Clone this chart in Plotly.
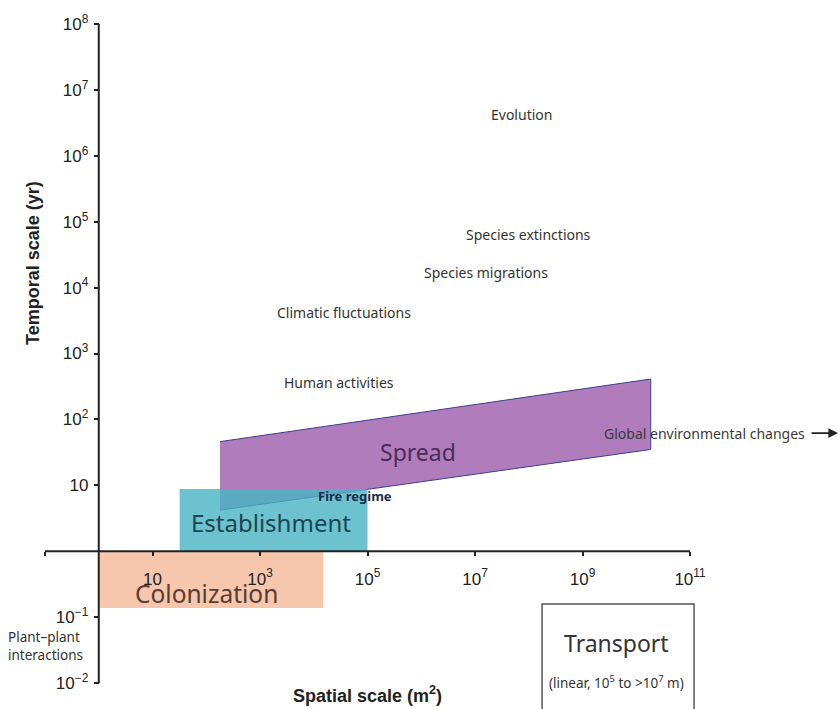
import numpy as np
import plotly.graph_objects as go

# ---------------- data ----------------
# axis ticks (spatial scale m^2, temporal scale yr)
x_tick_vals = [1e-1, 1e1, 1e3, 1e5, 1e7, 1e9, 1e11]
x_tick_text = ["", "10", "10<sup>3</sup>", "10<sup>5</sup>", "10<sup>7</sup>",
               "10<sup>9</sup>", "10<sup>11</sup>"]
y_tick_vals = [1e-2, 1e-1, 1e1, 1e2, 1e3, 1e4, 1e5, 1e6, 1e7, 1e8]
y_tick_text = ["10<sup>−2</sup>", "10<sup>−1</sup>", "10", "10<sup>2</sup>",
               "10<sup>3</sup>", "10<sup>4</sup>", "10<sup>5</sup>",
               "10<sup>6</sup>", "10<sup>7</sup>", "10<sup>8</sup>"]

# invasion stages (polygons in spatial / temporal space)
colonization_x = [1, 1.5e4, 1.5e4, 1]
colonization_y = [1, 1, 0.137, 0.137]
establishment_x = [32, 1e5, 1e5, 32]
establishment_y = [1, 1, 8.8, 8.8]
spread_x = [180, 1.86e10, 1.86e10, 180]
spread_y = [46, 410, 35, 4.2]

# drivers / processes (label positions)
driver_names = ["Evolution", "Species extinctions", "Species migrations",
                "Climatic fluctuations", "Human activities"]
driver_x = [7.2e7, 9.7e7, 1.6e7, 3.7e4, 3.0e4]
driver_y = [4.2e6, 6.3e4, 1.7e4, 4.2e3, 360]

stage_names = ["Spread", "Establishment", "Colonization"]
stage_x = [8.7e5, 1.6e3, 99]
stage_y = [32, 2.7, 0.23]

fire_x, fire_y = 5.8e4, 6.9
global_x, global_y = 1.9e11, 62
plant_x, plant_y = 0.019, 0.0364

transport_box_x = [1.77e8, 1.19e11]
transport_box_y = [0.158, 0.002]
transport_x, transport_y = 4.3e9, 0.041
transport_note_y = 0.0105

# ---------------- figure ----------------
W, H = 839, 709
x_range = [-1.8372, 13.7721]
y_range = [-2.3945, 8.3642]
yaxis_pos = (0 - x_range[0]) / (x_range[1] - x_range[0])
xaxis_pos = (0 - y_range[0]) / (y_range[1] - y_range[0])

fig = go.Figure()

fig.add_trace(go.Scatter(x=colonization_x, y=colonization_y, fill="toself",
                         fillcolor="#f6c6ad", line=dict(width=0), mode="lines",
                         hoverinfo="skip", showlegend=False))
fig.add_trace(go.Scatter(x=spread_x, y=spread_y, fill="toself",
                         fillcolor="#b07cbc", line=dict(width=1, color="#3b3d8c"),
                         mode="lines", hoverinfo="skip", showlegend=False))
fig.add_trace(go.Scatter(x=establishment_x, y=establishment_y, fill="toself",
                         fillcolor="rgba(71,180,195,0.8)", line=dict(width=0),
                         mode="lines", hoverinfo="skip", showlegend=False))

# axis lines crossing at (1, 1)
axis_x_line = [x_tick_vals[0], x_tick_vals[-1]]
axis_y_line = [y_tick_vals[0], y_tick_vals[-1]]
fig.add_trace(go.Scatter(x=axis_x_line, y=[1, 1], mode="lines",
                         line=dict(color="#222", width=2), hoverinfo="skip",
                         showlegend=False))
fig.add_trace(go.Scatter(x=[1, 1], y=axis_y_line, mode="lines",
                         line=dict(color="#222", width=2), hoverinfo="skip",
                         showlegend=False))

# transport box
fig.add_shape(type="rect", x0=transport_box_x[0], x1=transport_box_x[1],
              y0=transport_box_y[0], y1=transport_box_y[1],
              line=dict(color="#555", width=1.5), fillcolor="rgba(0,0,0,0)")

LABEL_FONT = "Noto Sans"
ann = []
for name, xv, yv in zip(driver_names, driver_x, driver_y):
    ann.append(dict(x=np.log10(xv), y=np.log10(yv), text=name, showarrow=False,
                    font=dict(family=LABEL_FONT, size=14, color="#333")))

stage_colors = ["#4a2d57", "#1d4550", "#5a3c33"]
stage_sizes = [23, 24, 24.5]
for name, xv, yv, c, s in zip(stage_names, stage_x, stage_y, stage_colors, stage_sizes):
    ann.append(dict(x=np.log10(xv), y=np.log10(yv), text=name, showarrow=False,
                    font=dict(family=LABEL_FONT, size=s, color=c)))

ann.append(dict(x=np.log10(fire_x), y=np.log10(fire_y), text="<b>Fire regime</b>",
                showarrow=False, font=dict(family=LABEL_FONT, size=13, color="#1e2a4a")))
ann.append(dict(x=np.log10(global_x), y=np.log10(global_y),
                text="Global environmental changes", showarrow=False,
                font=dict(family=LABEL_FONT, size=14, color="#3a3a3a")))
ann.append(dict(x=13.753, y=np.log10(global_y), ax=13.233, ay=np.log10(global_y),
                axref="x", ayref="y", text="", showarrow=True, arrowhead=2,
                arrowsize=1.2, arrowwidth=1.6, arrowcolor="#222", standoff=0))
ann.append(dict(x=np.log10(plant_x), y=np.log10(plant_y),
                text="Plant–plant<br>interactions", showarrow=False, align="left",
                xanchor="left", font=dict(family=LABEL_FONT, size=13.5, color="#333")))
ann.append(dict(x=np.log10(transport_x), y=np.log10(transport_y), text="Transport",
                showarrow=False, font=dict(family=LABEL_FONT, size=23, color="#333")))
ann.append(dict(x=np.log10(transport_x), y=np.log10(transport_note_y),
                text="(linear, 10<sup>5</sup> to >10<sup>7</sup> m)", showarrow=False,
                font=dict(family=LABEL_FONT, size=13.5, color="#333")))

# axis titles
ann.append(dict(xref="paper", yref="paper", x=33 / W, y=1 - 263 / H,
                xanchor="center", yanchor="middle",
                text="<b>Temporal scale (yr)</b>", textangle=-90, showarrow=False,
                font=dict(family="Liberation Sans", size=18, color="#222")))
ann.append(dict(xref="paper", yref="paper", x=367 / W, y=1 - 694 / H,
                xanchor="center", yanchor="middle",
                text="<b>Spatial scale (m<sup>2</sup>)</b>", showarrow=False,
                font=dict(family="Liberation Sans", size=18, color="#222")))

fig.update_layout(
    width=W, height=H, margin=dict(l=0, r=0, t=0, b=0, pad=0),
    plot_bgcolor="white", paper_bgcolor="white", showlegend=False,
    annotations=ann,
    xaxis=dict(type="log", range=x_range, domain=[0, 1], anchor="free",
               position=xaxis_pos, showline=False, showgrid=False, zeroline=False,
               ticks="outside", ticklen=4, tickwidth=1.5, tickcolor="#222",
               tickvals=x_tick_vals, ticktext=x_tick_text, ticklabelstandoff=8,
               tickfont=dict(family="Liberation Sans", size=17, color="#222"),
               automargin=False, fixedrange=True),
    yaxis=dict(type="log", range=y_range, domain=[0, 1], anchor="free",
               position=yaxis_pos, showline=False, showgrid=False, zeroline=False,
               ticks="outside", ticklen=5, tickwidth=1.5, tickcolor="#222",
               tickvals=y_tick_vals, ticktext=y_tick_text, ticklabelstandoff=2,
               tickfont=dict(family="Liberation Sans", size=17, color="#222"),
               automargin=False, fixedrange=True),
)

fig.write_html("out.html", config={"displayModeBar": False},
               post_script="document.body.style.margin='0';")
